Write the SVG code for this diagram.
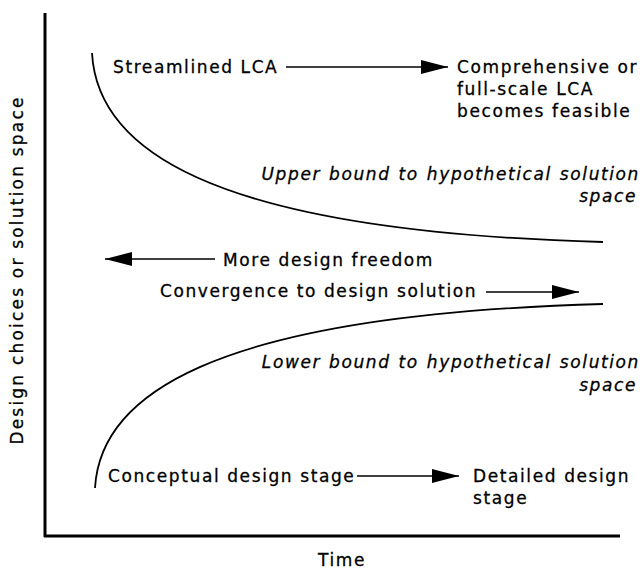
<svg xmlns="http://www.w3.org/2000/svg" width="644" height="570" viewBox="0 0 644 570">
<style>
  text { font-family: "DejaVu Sans", "Noto Sans", sans-serif; font-size: 17px; letter-spacing: 1.6px; fill: #000; stroke: #000; stroke-width: 0.3px; }
  .it { font-style: italic; word-spacing: 1px; }
  .ylab { letter-spacing: 2.2px; }
  .axis { stroke: #000; stroke-width: 3; fill: none; }
  .curve { stroke: #000; stroke-width: 1.8; fill: none; }
  .arr { stroke: #000; stroke-width: 1.6; fill: none; marker-end: url(#head); }
</style>
<defs>
  <marker id="head" markerUnits="userSpaceOnUse" markerWidth="28" markerHeight="15" refX="27" refY="7.5" orient="auto">
    <path d="M0,0.5 L27,7.5 L0,14.5 z" fill="#000"/>
  </marker>
</defs>
<rect width="644" height="570" fill="#fff"/>
<g id="axes">
  <line class="axis" x1="45" y1="13" x2="45" y2="537"/>
  <line class="axis" x1="44" y1="536" x2="620" y2="536"/>
  <text id="ylabel" class="ylab" transform="translate(23,270) rotate(-90)" text-anchor="middle">Design choices or solution space</text>
  <text id="xlabel" x="342" y="566" text-anchor="middle">Time</text>
</g>
<g id="upper-bound">
  <path class="curve" d="M92,53 C97,144 197,231 603,242"/>
  <text class="it" x="640" y="180" text-anchor="end">Upper bound to hypothetical solution</text>
  <text class="it" x="637" y="202" text-anchor="end">space</text>
</g>
<g id="lower-bound">
  <path class="curve" d="M95,488 C100,400 200,315 603,304"/>
  <text class="it" x="640" y="368" text-anchor="end">Lower bound to hypothetical solution</text>
  <text class="it" x="637" y="391" text-anchor="end">space</text>
</g>
<g id="streamlined">
  <text x="113" y="73">Streamlined LCA</text>
</g>
<g id="comprehensive">
  <text x="457" y="73">Comprehensive or</text>
  <text x="457" y="95">full-scale LCA</text>
  <text x="457" y="117">becomes feasible</text>
</g>
<g id="freedom">
  <text x="223" y="266">More design freedom</text>
</g>
<g id="convergence">
  <text x="160" y="297">Convergence to design solution</text>
</g>
<g id="conceptual">
  <text x="108" y="482">Conceptual design stage</text>
</g>
<g id="detailed">
  <text x="473" y="482">Detailed design</text>
  <text x="473" y="504">stage</text>
</g>
<g id="connectors">
  <line class="arr" x1="286" y1="67" x2="448" y2="67"/>
  <line class="arr" x1="215" y1="259" x2="105" y2="259"/>
  <line class="arr" x1="486" y1="292" x2="579" y2="292"/>
  <line class="arr" x1="357" y1="476" x2="459" y2="476"/>
</g>
</svg>
